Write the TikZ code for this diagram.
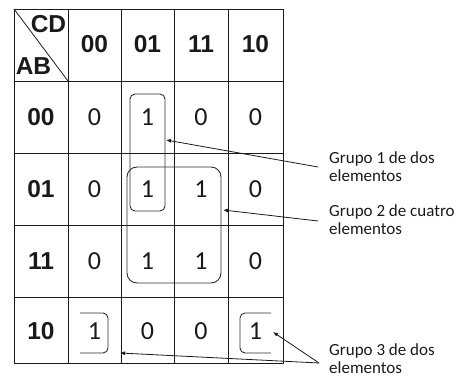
\documentclass[tikz,border=0pt]{standalone}
\usepackage{fontspec}
\setmainfont{Carlito}
\newfontfamily\hdrfont{Liberation Sans}
\usetikzlibrary{arrows.meta}
\definecolor{mapink}{HTML}{1A1A1A}
\definecolor{loopink}{HTML}{2E2E2E}
\tikzset{
  hdr/.style={font=\hdrfont\bfseries\fontsize{24.5}{24.5}\selectfont, text=mapink, inner sep=0pt},
  val/.style={font=\fontsize{26}{26}\selectfont, text=mapink, inner sep=0pt},
  note/.style={font=\fontsize{17}{18.5}\selectfont, text=mapink, align=left, anchor=north west, inner sep=0pt},
  grupo/.style={loopink, line width=0.9pt},
  pointer/.style={mapink, line width=0.8pt, -{Latex[length=5pt,width=4pt]}},
}
% one row of the map: y, row index, row label, four values
\newcommand{\maprow}[7]{%
  \node[hdr] (r#2) at (41,#1) {#3};
  \node[val] (v#2a) at (94.5,#1) {#4};
  \node[val] (v#2b) at (147.5,#1) {#5};
  \node[val] (v#2c) at (201,#1) {#6};
  \node[val] (v#2d) at (255.5,#1) {#7};
}

\begin{document}
\begin{tikzpicture}[x=1pt, y=-1pt]
  \useasboundingbox (0,0) rectangle (461,379);

  % grid
  \draw[mapink, line width=0.9pt] (14,9) rectangle (283,363);
  \foreach \gx in {68,121,174,228}
    \draw[mapink, line width=0.9pt] (\gx,9) -- (\gx,363);
  \foreach \gy in {81,153,225,297}
    \draw[mapink, line width=0.9pt] (14,\gy) -- (283,\gy);
  \draw[mapink, line width=0.8pt] (14,9) -- (68,81);

  % headers
  \node[hdr] (cd) at (48.5,24.5) {CD};
  \node[hdr] (ab) at (33.5,66) {AB};
  \node[hdr] (k1) at (94.5,44) {00};
  \node[hdr] (k2) at (147.5,44) {01};
  \node[hdr] (k3) at (201,44) {11};
  \node[hdr] (k4) at (255.5,44) {10};

  \maprow{117}{1}{00}{0}{1}{0}{0}
  \maprow{189}{2}{01}{0}{1}{1}{0}
  \maprow{261}{3}{11}{0}{1}{1}{0}
  \maprow{331}{4}{10}{1}{0}{0}{1}

  % groups
  \draw[grupo, rounded corners=5pt] (130,94) rectangle (165,211);
  \draw[grupo, rounded corners=10pt] (127,167) rectangle (221,283);
  \draw[grupo, rounded corners=5pt] (80,313) -- (108,313) -- (108,353) -- (80,353);
  \draw[grupo, rounded corners=5pt] (271,313) -- (240,313) -- (240,353) -- (271,353);

  % labels
  \node[note] (g1) at (329,151) {Grupo 1 de dos\\elementos};
  \node[note] (g2) at (329,204) {Grupo 2 de cuatro\\elementos};
  \node[note] (g3) at (329,343) {Grupo 3 de dos\\elementos};

  \coordinate (g1s) at (318,167);
  \coordinate (g1e) at (166,140);
  \coordinate (g2s) at (318,221);
  \coordinate (g2e) at (223,210);
  \coordinate (g3s) at (319,363);
  \coordinate (g3e) at (273,332);
  \coordinate (g3f) at (120,353);

  \draw[pointer] (g1s) -- (g1e);
  \draw[pointer] (g2s) -- (g2e);
  \draw[pointer] (g3s) -- (g3e);
  \draw[pointer] (g3s) -- (g3f);

\end{tikzpicture}
\end{document}
